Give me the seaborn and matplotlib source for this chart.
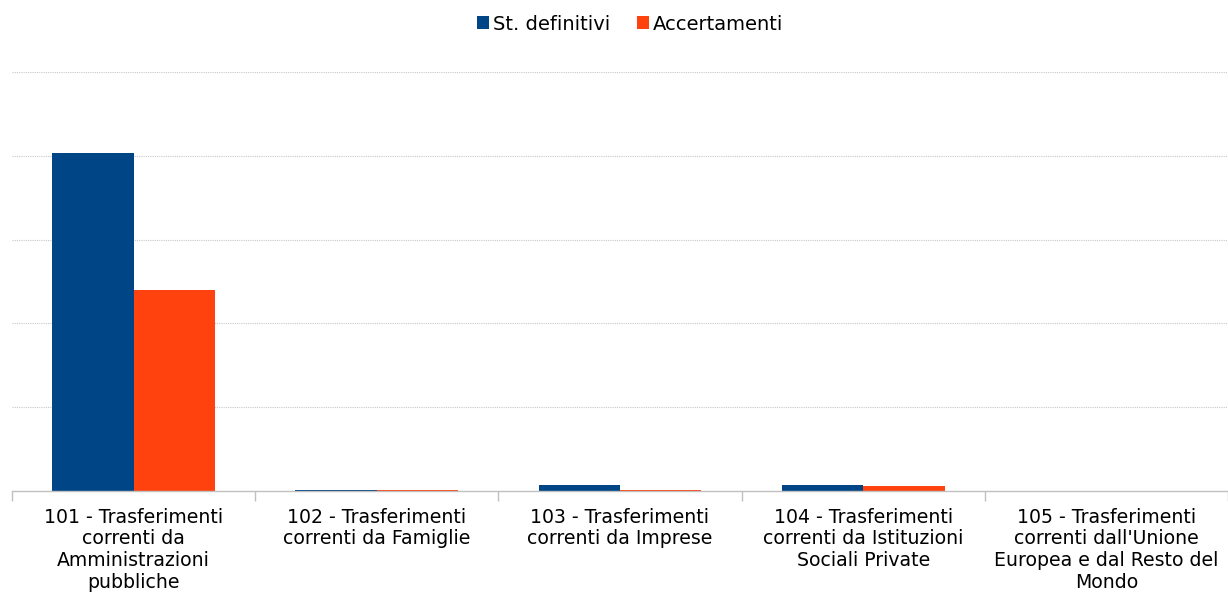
import matplotlib
matplotlib.use("Agg")
import matplotlib.pyplot as plt
import seaborn as sns
import pandas as pd
import numpy as np
from matplotlib.ticker import FixedLocator, NullFormatter

categories = [
    "101 - Trasferimenti\ncorrenti da\nAmministrazioni\npubbliche",
    "102 - Trasferimenti\ncorrenti da Famiglie",
    "103 - Trasferimenti\ncorrenti da Imprese",
    "104 - Trasferimenti\ncorrenti da Istituzioni\nSociali Private",
    "105 - Trasferimenti\ncorrenti dall'Unione\nEuropea e dal Resto del\nMondo",
]
series_names = ["St. definitivi", "Accertamenti"]
st_definitivi = [4.03, 0.012, 0.075, 0.075, 0.0]
accertamenti = [2.40, 0.012, 0.012, 0.065, 0.0]
colors = ["#004586", "#ff420e"]

df = pd.DataFrame({
    "cat": categories * 2,
    "serie": [series_names[0]] * 5 + [series_names[1]] * 5,
    "val": st_definitivi + accertamenti,
})

sns.set_theme(style="white")
plt.rcParams['font.family'] = ['DejaVu Sans']

fig = plt.figure(figsize=(12.28, 5.95), dpi=100)
ax = fig.add_axes([12/1228, (595-491)/595, 1216/1228, (491-72)/595])

sns.barplot(data=df, x="cat", y="val", hue="serie", palette=colors,
            width=0.67, saturation=1, ax=ax, legend=True, linewidth=0,
            edgecolor="none")

ax.set_ylim(0, 5)
ax.set_xlim(-0.5, 4.5)
ax.set_yticks([1, 2, 3, 4, 5])
ax.set_yticklabels([])
ax.tick_params(axis="y", length=0)
ax.yaxis.grid(True, color="#c8c8c8", linestyle=(0, (1, 1)), linewidth=0.8)
ax.set_axisbelow(True)
for s in ["left", "right", "top"]:
    ax.spines[s].set_visible(False)
ax.spines["bottom"].set_color("#c0c0c0")
ax.spines["bottom"].set_linewidth(1)

ax.set_xlabel("")
ax.set_ylabel("")
ax.tick_params(axis="x", which="major", length=0, pad=12, labelsize=13.6, labelcolor="#000000")
ax.xaxis.set_minor_locator(FixedLocator(np.arange(-0.5, 5.0, 1.0)))
ax.xaxis.set_minor_formatter(NullFormatter())
ax.tick_params(axis="x", which="minor", length=7, width=1, color="#c0c0c0", direction="out", bottom=True)
for t in ax.get_xticklabels():
    t.set_linespacing(1.18)
    t.set_verticalalignment("top")

ax.legend(loc="center", bbox_to_anchor=(630/1228, 1 - 24/595), bbox_transform=fig.transFigure,
          ncol=2, frameon=False, fontsize=14, handlelength=0.6, handleheight=0.6,
          handletextpad=0.2, columnspacing=1.4, labelcolor="#000000")

fig.savefig("out.png", dpi=100)
